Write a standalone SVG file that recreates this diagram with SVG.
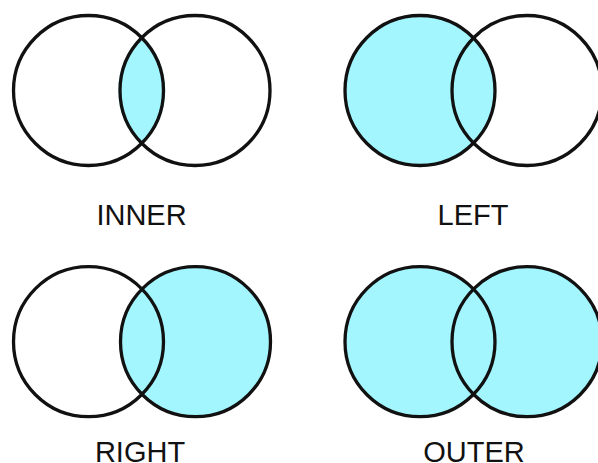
<svg xmlns="http://www.w3.org/2000/svg" width="598" height="463" viewBox="0 0 598 463">
<style>
.ring{fill:none;stroke:#111;stroke-width:3.3}
.fill{fill:#a3f6fe;stroke:none}
.lbl{font-family:"Liberation Sans",Arial,sans-serif;font-size:29px;fill:#111;text-anchor:middle}
</style>
<rect width="598" height="463" fill="#fff"/>
<g id="inner">
<path class="fill" d="M141.75,35.95 A75,75 0 0 1 141.75,145.05 A75,75 0 0 1 141.75,35.95 Z"/>
<circle class="ring" cx="88.5" cy="90.5" r="75"/>
<circle class="ring" cx="195" cy="90.5" r="75"/>
<text class="lbl" x="141.5" y="225">INNER</text>
</g>
<g id="left">
<circle class="fill" cx="420" cy="90.5" r="75"/>
<circle class="ring" cx="420" cy="90.5" r="75"/>
<circle class="ring" cx="527" cy="90.5" r="75"/>
<text class="lbl" x="473" y="225">LEFT</text>
</g>
<g id="right">
<circle class="fill" cx="195.5" cy="341.7" r="75"/>
<circle class="ring" cx="88.5" cy="341.7" r="75"/>
<circle class="ring" cx="195.5" cy="341.7" r="75"/>
<text class="lbl" x="140" y="462">RIGHT</text>
</g>
<g id="outer">
<circle class="fill" cx="420" cy="341.7" r="75"/>
<circle class="fill" cx="527" cy="341.7" r="75"/>
<circle class="ring" cx="420" cy="341.7" r="75"/>
<circle class="ring" cx="527" cy="341.7" r="75"/>
<text class="lbl" x="474" y="462">OUTER</text>
</g>
<g id="connectors"></g>
</svg>
